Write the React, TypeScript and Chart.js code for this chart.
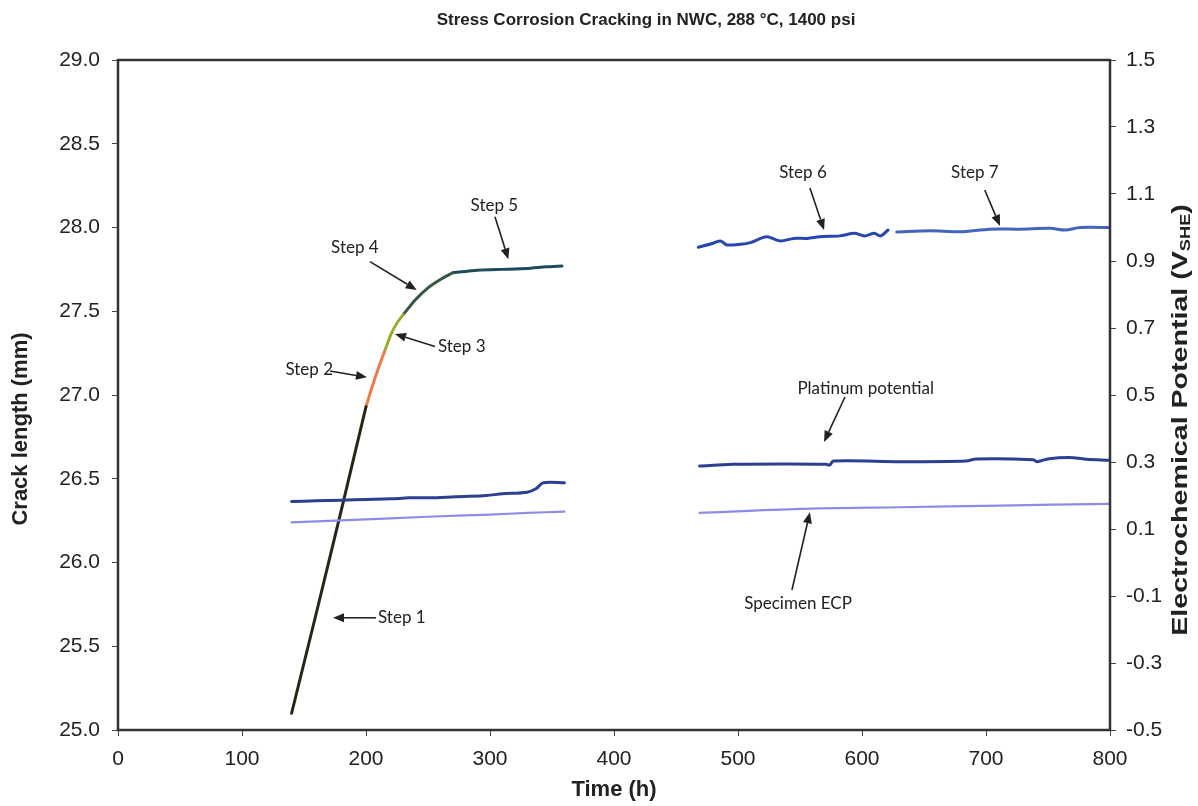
import React, { useEffect, useRef } from "react";
import { Chart, registerables } from "chart.js";
Chart.register(...registerables);

// ---------- data ----------
const step1Time = [140, 160, 180, 190, 200];
const step1Crack = [25.1, 25.7, 26.31, 26.62, 26.93];
const step2Time = [200, 205, 210, 215];
const step2Crack = [26.93, 27.05, 27.16, 27.26];
const step3Time = [215, 220, 225, 230];
const step3Crack = [27.26, 27.36, 27.43, 27.48];
const step4Time = [230, 240, 250, 260, 270];
const step4Crack = [27.48, 27.57, 27.64, 27.69, 27.73];
const step5Time = [270, 290, 310, 330, 345, 358];
const step5Crack = [27.73, 27.745, 27.75, 27.755, 27.765, 27.77];
const step6Time = [468, 480, 486, 491, 502, 510, 523, 534, 545, 556, 566, 582, 594, 602, 610, 615, 621];
const step6Crack = [27.882, 27.906, 27.92, 27.896, 27.9, 27.91, 27.945, 27.92, 27.935, 27.935, 27.945, 27.95, 27.965, 27.95, 27.965, 27.95, 27.985];
const step7Time = [628, 655, 679, 703, 727, 752, 764, 776, 800];
const step7Crack = [27.973, 27.98, 27.975, 27.99, 27.99, 27.995, 27.985, 28.0, 28.0];

const ptLeftTime = [140, 160, 180, 200, 220, 235, 250, 265, 280, 297, 310, 330, 337, 343, 360];
const ptLeftV = [0.182, 0.184, 0.186, 0.188, 0.19, 0.193, 0.193, 0.195, 0.197, 0.2, 0.205, 0.21, 0.22, 0.238, 0.238];
const ptRightTime = [469, 496, 540, 571, 574, 577, 631, 684, 692, 738, 741, 751, 770, 781, 799];
const ptRightV = [0.288, 0.293, 0.294, 0.293, 0.291, 0.303, 0.301, 0.303, 0.309, 0.307, 0.301, 0.31, 0.313, 0.308, 0.305];
const ecpLeftTime = [140, 180, 220, 260, 300, 330, 360];
const ecpLeftV = [0.12, 0.126, 0.132, 0.138, 0.143, 0.148, 0.152];
const ecpRightTime = [469, 550, 631, 711, 799];
const ecpRightV = [0.148, 0.16, 0.165, 0.17, 0.175];

const timeTicks = [0, 100, 200, 300, 400, 500, 600, 700, 800];
const crackTicks = [25.0, 25.5, 26.0, 26.5, 27.0, 27.5, 28.0, 28.5, 29.0];
const potentialTicks = [-0.5, -0.3, -0.1, 0.1, 0.3, 0.5, 0.7, 0.9, 1.1, 1.3, 1.5];

const chartTitle = "Stress Corrosion Cracking in NWC, 288 °C, 1400 psi";
const xTitle = "Time (h)";
const yTitle = "Crack length (mm)";
const y1TitleMain = "Electrochemical Potential (V";
const y1TitleSub = "SHE";
const y1TitleEnd = ")";

// annotations: text anchor and arrow (tail -> head) in data units (time, crack length)
const annotations = [
  { text: "Step 1", tx: 209.7, ty: 25.67, align: "left", ax: 208, ay: 25.67, hx: 173.4, hy: 25.67 },
  { text: "Step 2", tx: 173.4, ty: 27.15, align: "right", ax: 171, ay: 27.143, hx: 200.8, hy: 27.106 },
  { text: "Step 3", tx: 258, ty: 27.29, align: "left", ax: 255.6, ay: 27.29, hx: 223.4, hy: 27.364 },
  { text: "Step 4", tx: 191, ty: 27.88, align: "center", ax: 203.2, ay: 27.796, hx: 240.9, hy: 27.627 },
  { text: "Step 5", tx: 303.5, ty: 28.134, align: "center", ax: 304, ay: 28.064, hx: 314.8, hy: 27.81 },
  { text: "Step 6", tx: 552.4, ty: 28.33, align: "center", ax: 558, ay: 28.236, hx: 569.4, hy: 27.985 },
  { text: "Step 7", tx: 691, ty: 28.33, align: "center", ax: 699, ay: 28.224, hx: 711.3, hy: 28.009 },
  { text: "Platinum potential", tx: 603, ty: 27.04, align: "center", ax: 586.3, ay: 26.988, hx: 569.4, hy: 26.72 },
  { text: "Specimen ECP", tx: 548.4, ty: 25.758, align: "center", ax: 543.5, ay: 25.836, hx: 558, hy: 26.3 },
];

const pts = (xs: number[], ys: number[]) => xs.map((x, i) => ({ x, y: ys[i] }));

const FONT = "'Liberation Sans', Arial, sans-serif";

const decorPlugin = {
  id: "decor",
  afterDatasetsDraw(chart: any) {
    const { ctx, chartArea, scales } = chart;
    const xs = scales.x;
    const ys = scales.y;
    ctx.save();
    ctx.fillStyle = "#222";
    ctx.strokeStyle = "#222";
    ctx.font = "17px Lato, 'Open Sans', sans-serif";
    ctx.textBaseline = "middle";
    for (const a of annotations) {
      ctx.textAlign = a.align as CanvasTextAlign;
      ctx.fillText(a.text, xs.getPixelForValue(a.tx), ys.getPixelForValue(a.ty));
      const x0 = xs.getPixelForValue(a.ax);
      const y0 = ys.getPixelForValue(a.ay);
      const x1 = xs.getPixelForValue(a.hx);
      const y1 = ys.getPixelForValue(a.hy);
      const ang = Math.atan2(y1 - y0, x1 - x0);
      const L = 11;
      const W = 4.5;
      const bx = x1 - L * Math.cos(ang);
      const by = y1 - L * Math.sin(ang);
      ctx.lineWidth = 1.6;
      ctx.beginPath();
      ctx.moveTo(x0, y0);
      ctx.lineTo(bx, by);
      ctx.stroke();
      ctx.beginPath();
      ctx.moveTo(x1, y1);
      ctx.lineTo(bx + W * Math.sin(ang), by - W * Math.cos(ang));
      ctx.lineTo(bx - W * Math.sin(ang), by + W * Math.cos(ang));
      ctx.closePath();
      ctx.fill();
    }
    ctx.strokeStyle = "#333";
    ctx.lineWidth = 2.5;
    ctx.strokeRect(chartArea.left, chartArea.top, chartArea.right - chartArea.left, chartArea.bottom - chartArea.top);
    ctx.restore();
  },
  afterDraw(chart: any) {
    const { ctx, chartArea } = chart;
    ctx.save();
    ctx.fillStyle = "#222";
    ctx.textBaseline = "middle";
    ctx.textAlign = "center";
    ctx.font = "bold 17px " + FONT;
    ctx.fillText(chartTitle, 646, 20);
    ctx.font = "bold 22px " + FONT;
    ctx.fillText(xTitle, (chartArea.left + chartArea.right) / 2, 790);
    // left title
    ctx.save();
    ctx.translate(21, 429);
    ctx.rotate(-Math.PI / 2);
    ctx.fillText(yTitle, 0, 0);
    ctx.restore();
    // right title with subscript
    ctx.save();
    ctx.translate(1181, 420);
    ctx.rotate(-Math.PI / 2);
    ctx.scale(1.3, 1);
    const mainFont = "bold 22px " + FONT;
    const subFont = "bold 14px " + FONT;
    ctx.font = mainFont;
    const w1 = ctx.measureText(y1TitleMain).width;
    const w3 = ctx.measureText(y1TitleEnd).width;
    ctx.font = subFont;
    const w2 = ctx.measureText(y1TitleSub).width;
    let x = -(w1 + w2 + w3) / 2;
    ctx.textAlign = "left";
    ctx.font = mainFont;
    ctx.fillText(y1TitleMain, x, 0);
    x += w1;
    ctx.font = subFont;
    ctx.fillText(y1TitleSub, x, 5);
    x += w2;
    ctx.font = mainFont;
    ctx.fillText(y1TitleEnd, x, 0);
    ctx.restore();
    ctx.restore();
  },
};

export default function App() {
  const ref = useRef<HTMLCanvasElement | null>(null);
  useEffect(() => {
    if (!ref.current) return;
    const lineDs = (label: string, data: any[], color: string, width: number, axis: string, tension = 0.3) => ({
      label,
      data,
      borderColor: color,
      backgroundColor: color,
      borderWidth: width,
      pointRadius: 0,
      tension,
      yAxisID: axis,
      borderCapStyle: "round",
      borderJoinStyle: "round",
      fill: false,
    });
    const chart = new Chart(ref.current, {
      type: "line",
      data: {
        datasets: [
          lineDs("Specimen ECP (0-360 h)", pts(ecpLeftTime, ecpLeftV), "#8c8ce8", 2.2, "y1"),
          lineDs("Specimen ECP (470-800 h)", pts(ecpRightTime, ecpRightV), "#8c8ce8", 2.2, "y1"),
          lineDs("Platinum potential (0-360 h)", pts(ptLeftTime, ptLeftV), "#2c3f90", 3, "y1"),
          lineDs("Platinum potential (470-800 h)", pts(ptRightTime, ptRightV), "#2c3f90", 3, "y1"),
          lineDs("Step 1", pts(step1Time, step1Crack), "#262618", 3, "y", 0.2),
          lineDs("Step 2", pts(step2Time, step2Crack), "#f27a45", 3, "y", 0.2),
          lineDs("Step 3", pts(step3Time, step3Crack), "#9aae2c", 3, "y", 0.2),
          lineDs("Step 4", pts(step4Time, step4Crack), "#35573f", 3, "y", 0.2),
          lineDs("Step 5", pts(step5Time, step5Crack), "#1f4b5a", 3, "y", 0.2),
          lineDs("Step 6", pts(step6Time, step6Crack), "#2846b0", 3, "y"),
          lineDs("Step 7", pts(step7Time, step7Crack), "#4565bd", 3, "y"),
        ] as any,
      },
      options: {
        responsive: false,
        animation: false,
        events: [],
        layout: { padding: { top: 60, left: 0, right: 0, bottom: 0 } },
        plugins: { legend: { display: false }, tooltip: { enabled: false }, title: { display: false } },
        scales: {
          x: {
            type: "linear",
            min: 0,
            max: 800,
            afterBuildTicks: (s: any) => { s.ticks = timeTicks.map((v) => ({ value: v })); },
            afterFit: (s: any) => { s.height = 76; },
            ticks: { color: "#222", font: { family: FONT, size: 21 }, padding: 11, maxRotation: 0, callback: (v: any) => String(v) },
            grid: { drawOnChartArea: false, drawTicks: true, tickLength: 6, color: "#444" },
            border: { display: false },
          },
          y: {
            type: "linear",
            position: "left",
            min: 25,
            max: 29,
            afterBuildTicks: (s: any) => { s.ticks = crackTicks.map((v) => ({ value: v })); },
            afterFit: (s: any) => { s.width = 118; },
            ticks: { color: "#222", font: { family: FONT, size: 21 }, padding: 12, callback: (v: any) => Number(v).toFixed(1) },
            grid: { drawOnChartArea: false, drawTicks: true, tickLength: 6, color: "#444" },
            border: { display: false },
          },
          y1: {
            type: "linear",
            position: "right",
            min: -0.5,
            max: 1.5,
            afterBuildTicks: (s: any) => { s.ticks = potentialTicks.map((v) => ({ value: v })); },
            afterFit: (s: any) => { s.width = 88; },
            ticks: { color: "#222", font: { family: FONT, size: 21 }, padding: 10, callback: (v: any) => Number(v).toFixed(1) },
            grid: { drawOnChartArea: false, drawTicks: true, tickLength: 6, color: "#444" },
            border: { display: false },
          },
        },
      } as any,
      plugins: [decorPlugin],
    });
    return () => chart.destroy();
  }, []);
  return (
    <div style={{ position: "fixed", left: 0, top: 0, width: 1198, height: 806, background: "#fff" }}>
      <canvas ref={ref} width={1198} height={806} style={{ display: "block" }} />
    </div>
  );
}
